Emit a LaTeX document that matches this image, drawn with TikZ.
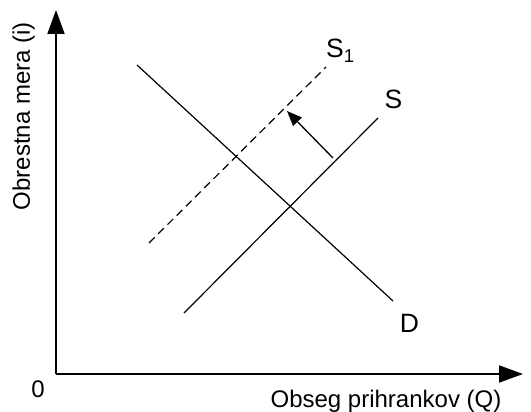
\documentclass[tikz,border=0pt]{standalone}
\usepackage{fontspec}
\setmainfont{Liberation Sans}
\usetikzlibrary{arrows.meta}
\begin{document}
\begin{tikzpicture}[x=1pt,y=-1pt,
  axis/.style={line width=1.9pt,-{Triangle[length=24pt,width=17pt]}},
  curve/.style={line width=1.2pt},
  shifted/.style={line width=1.2pt,dash pattern=on 8pt off 5pt},
  shiftarrow/.style={line width=1.3pt,-{Triangle[length=15pt,width=12pt]}},
  axlabel/.style={inner sep=0pt,font=\fontsize{24}{28}\selectfont},
  crvlabel/.style={inner sep=0pt,font=\fontsize{26.5}{30}\selectfont}]
\path[use as bounding box] (0,0) rectangle (531,412);
% axes
\coordinate (O) at (56,374);
\coordinate (ytip) at (56,10);
\coordinate (xtip) at (523,374);
\draw[axis] (O) -- (ytip);
\draw[axis] (O) -- (xtip);
% curves
\coordinate (D1) at (137,65);
\coordinate (D2) at (393,301);
\coordinate (Sa) at (184,313);
\coordinate (Sb) at (378,118);
\coordinate (S1a) at (149,243);
\coordinate (S1b) at (326,67);
\draw[curve] (D1) -- (D2);
\draw[curve] (Sa) -- (Sb);
\draw[shifted] (S1a) -- (S1b);
\coordinate (arA) at (333,158);
\coordinate (arB) at (287,111);
\draw[shiftarrow] (arA) -- (arB);
% labels
\node[axlabel,rotate=90,anchor=base] (ylab) at (30,116) {Obrestna mera (i)};
\node[axlabel,anchor=base] (xlab) at (386,407) {Obseg prihrankov (Q)};
\node[axlabel,anchor=base] (zero) at (38,397) {0};
\node[crvlabel,anchor=base] (Slab) at (393.5,109) {S};
\node[crvlabel,anchor=base] (Dlab) at (409.5,332) {D};
\node[crvlabel,anchor=base west] (S1lab) at (326,58) {S\textsubscript{1}};
\end{tikzpicture}
\end{document}
